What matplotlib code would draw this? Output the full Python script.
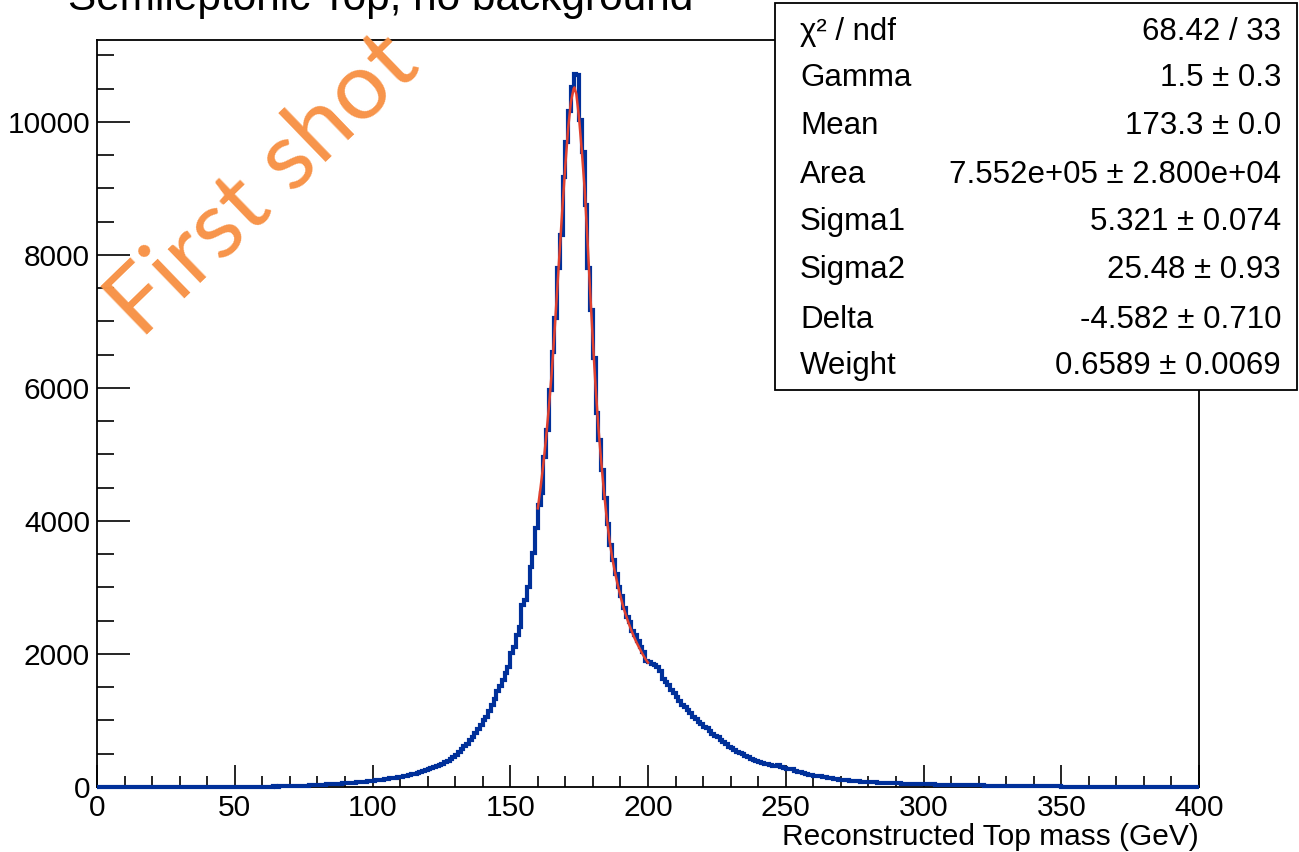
import matplotlib.pyplot as plt
import numpy as np
from matplotlib.patches import Rectangle

plt.rcParams['font.family'] = ['Liberation Sans', 'DejaVu Sans']

# histogram: 400 bins of 1 GeV from 0 to 400
counts = [
    # 0-59
    0, 0, 0, 0, 0, 0, 0, 0, 0, 0,
    0, 0, 0, 0, 0, 0, 0, 0, 0, 0,
    0, 0, 0, 0, 0, 0, 0, 0, 0, 0,
    0, 0, 0, 0, 0, 0, 0, 0, 0, 0,
    1, 0, 1, 1, 0, 1, 1, 2, 1, 2,
    2, 3, 2, 3, 3, 4, 3, 4, 5, 4,
    # 60-119
    5, 6, 4, 7, 8, 6, 9, 10, 11, 12,
    13, 15, 14, 17, 19, 21, 22, 25, 27, 30,
    31, 34, 37, 40, 42, 45, 47, 49, 50, 53,
    55, 58, 61, 64, 68, 72, 77, 81, 86, 90,
    95, 99, 104, 110, 116, 121, 128, 135, 141, 149,
    156, 162, 170, 178, 188, 197, 207, 222, 237, 256,
    # 120-179
    272, 287, 299, 318, 333, 350, 370, 398, 424, 452,
    486, 530, 566, 610, 650, 700, 752, 810, 870, 935,
    1000, 1060, 1140, 1230, 1330, 1440, 1520, 1610, 1710, 1810,
    2010, 2110, 2290, 2410, 2740, 2810, 3010, 3310, 3520, 3890,
    4240, 4420, 4960, 5370, 5970, 6540, 7050, 7800, 8300, 9180,
    9700, 10170, 10520, 10720, 10700, 10030, 9550, 8750, 7800, 7170,
    # 180-239
    6450, 5620, 5220, 4770, 4350, 3950, 3640, 3420, 3210, 3010,
    2870, 2690, 2560, 2480, 2340, 2280, 2190, 2110, 2030, 1900,
    1880, 1850, 1830, 1800, 1740, 1620, 1580, 1530, 1460, 1420,
    1360, 1300, 1230, 1210, 1160, 1110, 1060, 1020, 980, 940,
    905, 880, 840, 800, 770, 750, 710, 680, 640, 600,
    580, 560, 530, 505, 490, 470, 450, 420, 400, 385,
    # 240-299
    370, 360, 350, 340, 335, 320, 310, 330, 300, 285,
    275, 265, 270, 245, 230, 220, 210, 200, 185, 180,
    170, 165, 160, 155, 148, 140, 130, 125, 118, 112,
    107, 102, 98, 95, 92, 88, 84, 80, 78, 75,
    72, 70, 68, 66, 64, 62, 60, 59, 57, 56,
    55, 53, 52, 50, 49, 47, 45, 44, 43, 42,
    # 300-359
    41, 40, 39, 38, 37, 36, 36, 35, 34, 33,
    32, 31, 30, 30, 29, 28, 27, 26, 26, 25,
    24, 23, 22, 22, 21, 20, 20, 19, 18, 18,
    17, 16, 16, 15, 15, 14, 13, 13, 12, 12,
    11, 11, 10, 10, 9, 9, 9, 8, 8, 8,
    7, 7, 7, 6, 6, 6, 5, 5, 5, 5,
    # 360-399
    4, 4, 4, 4, 3, 3, 3, 3, 3, 2,
    2, 2, 2, 2, 2, 1, 1, 1, 1, 1,
    1, 1, 1, 0, 1, 0, 0, 1, 0, 0,
    0, 0, 0, 0, 0, 0, 0, 0, 0, 0,
]
bin_lo, bin_hi = 0, 400

# fitted curve (fit range 160-200 GeV)
fit_x = [160, 161, 162, 163, 164, 165, 166, 167, 168, 169, 170, 171, 172, 173,
         173.3, 174, 175, 176, 177, 178, 179, 180, 181, 182, 183, 184, 185, 186,
         187, 188, 189, 190, 191, 192, 193, 194, 195, 196, 197, 198, 199, 200]
fit_y = [4190, 4500, 4850, 5250, 5700, 6200, 6800, 7450, 8100, 8750, 9350, 9900,
         10300, 10500, 10520, 10420, 10050, 9550, 9000, 8250, 7450, 6700, 6000,
         5400, 4900, 4450, 4050, 3720, 3450, 3230, 3040, 2870, 2710, 2580, 2460,
         2350, 2250, 2160, 2080, 2000, 1930, 1870]

stat_names = ['\u03c7\u00b2 / ndf', 'Gamma', 'Mean', 'Area', 'Sigma1',
              'Sigma2', 'Delta', 'Weight']
stat_values = ['68.42 / 33', '1.5 \u00b1 0.3', '173.3 \u00b1 0.0',
               '7.552e+05 \u00b1 2.800e+04', '5.321 \u00b1 0.074',
               '25.48 \u00b1 0.93', '-4.582 \u00b1 0.710', '0.6589 \u00b1 0.0069']

W, H = 1299, 852
fig = plt.figure(figsize=(W / 100, H / 100), dpi=100)
ax = fig.add_axes([97 / W, 1 - 787 / H, 1102 / W, 747 / H])

edges = np.arange(bin_lo, bin_hi + 1, 1)
ax.stairs(counts, edges, color='#00309a', lw=3.0, baseline=0, zorder=3,
          clip_on=False)
ax.plot(fit_x, fit_y, color='#e2412f', lw=1.8, zorder=4)

ax.set_xlim(0, 400)
ax.set_ylim(0, 11233)
ax.set_xticks(np.arange(0, 401, 50))
ax.set_xticks(np.arange(0, 401, 10), minor=True)
ax.set_yticks(np.arange(0, 10001, 2000))
ax.set_yticks(np.arange(0, 11001, 500), minor=True)
ax.tick_params(axis='x', which='major', direction='in', length=16, width=1.2,
               labelsize=21.5, pad=5)
ax.tick_params(axis='x', which='minor', direction='in', length=8, width=1.2)
ax.tick_params(axis='y', which='major', direction='in', length=24, width=1.2,
               labelsize=21.5, pad=5)
ax.tick_params(axis='y', which='minor', direction='in', length=12, width=1.2)
for s in ax.spines.values():
    s.set_linewidth(1.3)

ax.set_xlabel('Reconstructed Top mass (GeV)', fontsize=21.5, loc='right',
              labelpad=1)

# title, cut at the top edge as in the original
fig.text(68 / W, 1 - 10 / H, 'Semileptonic Top, no background', fontsize=30.5,
         ha='left', va='baseline')

# stats box
fig.patches.append(Rectangle((775 / W, 1 - 390 / H), 522 / W, 387 / H,
                             transform=fig.transFigure, fill=True, fc='white',
                             ec='black', lw=1.3, zorder=5))
row_y = [32, 78, 126, 175, 222, 270, 320, 366]
for name, val, py in zip(stat_names, stat_values, row_y):
    fig.text(800 / W, 1 - py / H, name, fontsize=22.5, ha='left', va='center',
             zorder=6)
    fig.text(1281 / W, 1 - py / H, val, fontsize=22.5, ha='right', va='center',
             zorder=6)

fig.text(264 / W, 1 - 186 / H, 'First shot', fontsize=68, color='#f7944a',
         rotation=44, ha='center', va='center', family=['Lato', 'DejaVu Sans'],
         rotation_mode='anchor')

fig.savefig('out.png', dpi=100)
